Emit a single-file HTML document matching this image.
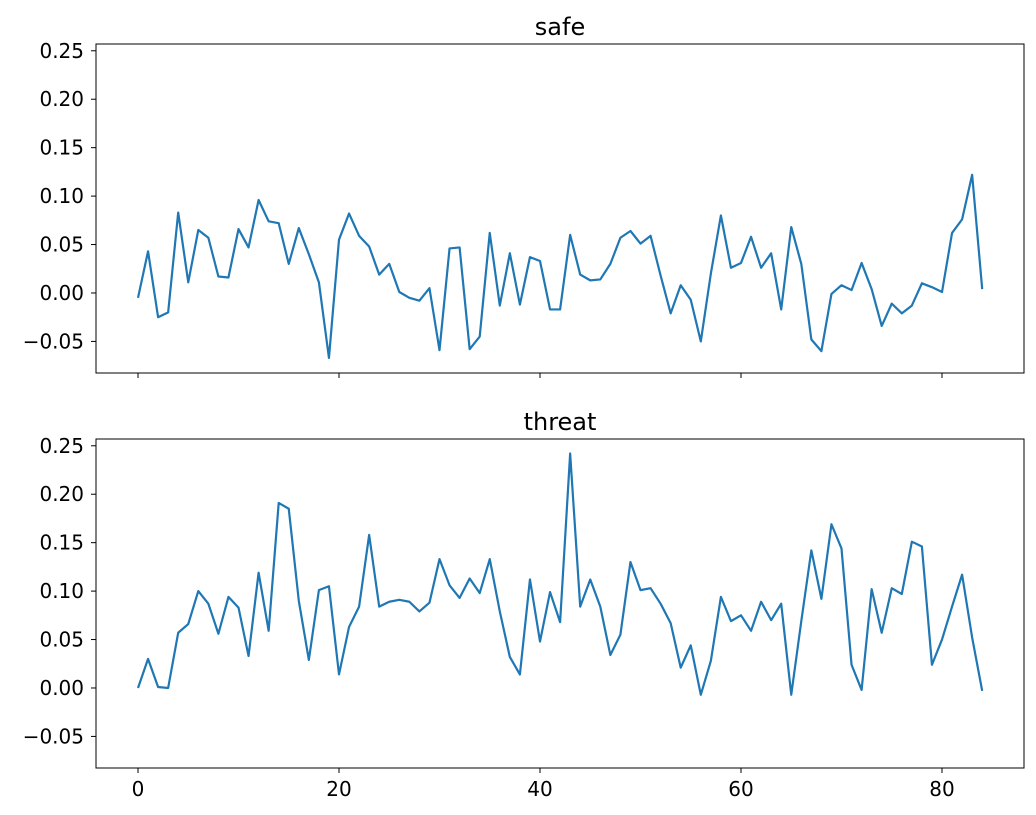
<!DOCTYPE html>
<html><head><meta charset="utf-8"><style>
html,body{margin:0;padding:0;background:#fff;}
svg{display:block;font-family:"DejaVu Sans","Liberation Sans",sans-serif;}
</style></head><body>
<svg id="chart" width="1036" height="815" viewBox="0 0 1036 815" xmlns="http://www.w3.org/2000/svg"></svg>
<script>
const safeValues=[-0.005,0.043,-0.025,-0.020,0.083,0.011,0.065,0.057,0.017,0.016,0.066,0.047,0.096,0.074,0.072,0.030,0.067,0.040,0.011,-0.067,0.055,0.082,0.059,0.048,0.019,0.030,0.001,-0.005,-0.008,0.005,-0.059,0.046,0.047,-0.058,-0.045,0.062,-0.013,0.041,-0.012,0.037,0.033,-0.017,-0.017,0.060,0.019,0.013,0.014,0.030,0.057,0.064,0.051,0.059,0.018,-0.021,0.008,-0.007,-0.050,0.020,0.080,0.026,0.031,0.058,0.026,0.041,-0.017,0.068,0.030,-0.048,-0.060,-0.001,0.008,0.003,0.031,0.004,-0.034,-0.011,-0.021,-0.013,0.010,0.006,0.001,0.062,0.076,0.122,0.004];
const threatValues=[0.000,0.030,0.001,0.000,0.057,0.066,0.100,0.087,0.056,0.094,0.083,0.033,0.119,0.059,0.191,0.185,0.090,0.029,0.101,0.105,0.014,0.063,0.084,0.158,0.084,0.089,0.091,0.089,0.079,0.088,0.133,0.106,0.093,0.113,0.098,0.133,0.079,0.032,0.014,0.112,0.048,0.099,0.068,0.242,0.084,0.112,0.084,0.034,0.055,0.130,0.101,0.103,0.087,0.067,0.021,0.044,-0.007,0.028,0.094,0.069,0.075,0.059,0.089,0.070,0.087,-0.007,0.069,0.142,0.092,0.169,0.144,0.024,-0.002,0.102,0.057,0.103,0.097,0.151,0.146,0.024,0.050,0.084,0.117,0.052,-0.003];
const xTicks=[0,20,40,60,80];
const yTicks=[-0.05,0.00,0.05,0.10,0.15,0.20,0.25];
const yTickLabels=["−0.05","0.00","0.05","0.10","0.15","0.20","0.25"];
const panelTitles=["safe","threat"];

const NS="http://www.w3.org/2000/svg";
const svg=document.getElementById('chart');
function mk(tag,attrs,parent){const e=document.createElementNS(NS,tag);for(const k in attrs)e.setAttribute(k,attrs[k]);(parent||svg).appendChild(e);return e;}
const X0=96,X1=1024;
const xScale=v=>138+(v-0)*(942-138)/80;
const yMin=-0.0826,yMax=0.257;
const panels=[{top:44,bottom:373,data:safeValues,labels:false},{top:439,bottom:768,data:threatValues,labels:true}];
panels.forEach((p,i)=>{
  const yScale=v=>p.bottom-(v-yMin)/(yMax-yMin)*(p.bottom-p.top);
  const g=mk('g',{});
  
  
  const t=mk('text',{x:(X0+X1)/2,y:p.top-9,'text-anchor':'middle','font-size':'24',fill:'#000'},g);
  t.textContent=panelTitles[i];
  
  
  yTicks.forEach((v,j)=>{
    const y=yScale(v);
    const tk=mk('line',{x1:X0-5,x2:X0,y1:y,y2:y,stroke:'#000','stroke-width':1},g);
    
    
    const lb=mk('text',{x:X0-12,y:y+7,'text-anchor':'end','font-size':'20',fill:'#000'},g);
    lb.textContent=yTickLabels[j];
    
    
  });
  xTicks.forEach(v=>{
    const x=xScale(v);
    const tk=mk('line',{x1:x,x2:x,y1:p.bottom,y2:p.bottom+5,stroke:'#000','stroke-width':1},g);
    
    
    if(p.labels){
      const lb=mk('text',{x:x,y:p.bottom+28,'text-anchor':'middle','font-size':'20',fill:'#000'},g);
      lb.textContent=String(v);
      
      
    }
  });
  const pts=p.data.map((v,k)=>xScale(k).toFixed(2)+','+yScale(v).toFixed(2)).join(' ');
  const line=mk('polyline',{points:pts,fill:'none',stroke:'#1f77b4','stroke-width':2.2,'stroke-linejoin':'round'},g);
  
  
  const fr=mk('rect',{x:X0,y:p.top,width:X1-X0,height:p.bottom-p.top,fill:'none',stroke:'#000','stroke-width':1},g);
  
  
});
</script>
</body></html>
